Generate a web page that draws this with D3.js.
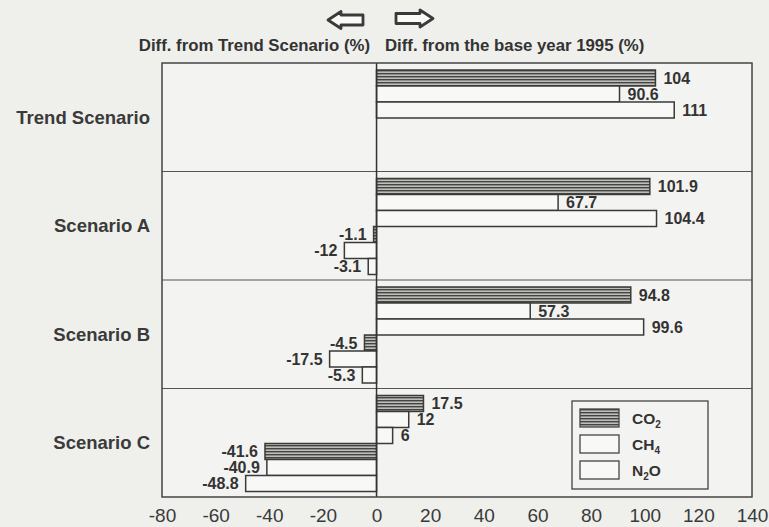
<!DOCTYPE html>
<html>
<head>
<meta charset="utf-8">
<script src="https://cdn.jsdelivr.net/npm/d3@7"></script>
<style>
  body { margin: 0; background: #efefec; }
  svg { display: block; font-family: "Liberation Sans", Arial, sans-serif; }
</style>
</head>
<body>
<div id="chart"></div>
<script>
// scenarios and gases
var scenarios = ["Trend Scenario", "Scenario A", "Scenario B", "Scenario C"];
var gases = ["CO2", "CH4", "N2O"];

// diff. from the base year 1995 (%)
var co2Base = [104, 101.9, 94.8, 17.5];
var ch4Base = [90.6, 67.7, 57.3, 12];
var n2oBase = [111, 104.4, 99.6, 6];

// diff. from trend scenario (%), none for the trend itself
var co2Trend = [null, -1.1, -4.5, -41.6];
var ch4Trend = [null, -12, -17.5, -40.9];
var n2oTrend = [null, -3.1, -5.3, -48.8];

var xTicks = [-80, -60, -40, -20, 0, 20, 40, 60, 80, 100, 120, 140];

var W = 769, H = 527;
var margin = {top: 63, right: 17, bottom: 30, left: 162};

var svg = d3.select("#chart").append("svg")
    .attr("width", W)
    .attr("height", H);

// striped fill for CO2
var defs = svg.append("defs");
var pat = defs.append("pattern")
    .attr("id", "stripes")
    .attr("patternUnits", "userSpaceOnUse")
    .attr("width", 6).attr("height", 3);
pat.append("rect").attr("width", 6).attr("height", 3).attr("fill", "#bdbdb9");
pat.append("rect").attr("y", 1).attr("width", 6).attr("height", 1.4).attr("fill", "#444442");

var x = d3.scaleLinear()
    .domain([-80, 140])
    .range([margin.left, W - margin.right]);

var y = d3.scaleBand()
    .domain(scenarios)
    .range([margin.top, H - margin.bottom])
    .padding(0);

// six slots per scenario: 3 positive bars then 3 negative bars
var slots = ["CO2_b", "CH4_b", "N2O_b", "CO2_t", "CH4_t", "N2O_t"];
var ySub = d3.scaleBand()
    .domain(slots)
    .range([0, y.bandwidth()])
    .paddingInner(0)
    .paddingOuter(0.39)
    .align(0.56);

var fills = {CO2: "url(#stripes)", CH4: "#f8f8f6", N2O: "#f8f8f6"};

// build rows from the arrays
var rows = [];
scenarios.forEach(function(s, i) {
    [[co2Base, "CO2"], [ch4Base, "CH4"], [n2oBase, "N2O"]].forEach(function(p) {
        rows.push({scen: s, gas: p[1], slot: p[1] + "_b", v: p[0][i]});
    });
    [[co2Trend, "CO2"], [ch4Trend, "CH4"], [n2oTrend, "N2O"]].forEach(function(p) {
        if (p[0][i] != null) rows.push({scen: s, gas: p[1], slot: p[1] + "_t", v: p[0][i]});
    });
});

// plot background
svg.append("rect")
    .attr("x", x(-80)).attr("y", margin.top)
    .attr("width", x(140) - x(-80))
    .attr("height", H - margin.bottom - margin.top)
    .attr("fill", "#f3f3f1");

// group separators
svg.selectAll(".sep")
    .data(scenarios.slice(1))
    .enter().append("line")
    .attr("x1", x(-80)).attr("x2", x(140))
    .attr("y1", function(d) { return y(d); })
    .attr("y2", function(d) { return y(d); })
    .attr("stroke", "#555").attr("stroke-width", 1.2);

// bars
svg.selectAll(".bar")
    .data(rows)
    .enter().append("rect")
    .attr("class", "bar")
    .attr("x", function(d) { return x(Math.min(0, d.v)); })
    .attr("y", function(d) { return y(d.scen) + ySub(d.slot); })
    .attr("width", function(d) { return Math.abs(x(d.v) - x(0)); })
    .attr("height", ySub.bandwidth())
    .attr("fill", function(d) { return fills[d.gas]; })
    .attr("stroke", "#3a3a38")
    .attr("stroke-width", 1.5);

// value labels
svg.selectAll(".val")
    .data(rows)
    .enter().append("text")
    .attr("x", function(d) { return d.v >= 0 ? x(d.v) + 8 : x(d.v) - 7; })
    .attr("y", function(d) { return y(d.scen) + ySub(d.slot) + ySub.bandwidth() / 2; })
    .attr("dy", "0.36em")
    .attr("text-anchor", function(d) { return d.v >= 0 ? "start" : "end"; })
    .attr("font-size", 16)
    .attr("font-weight", "bold")
    .attr("fill", "#333")
    .text(function(d) { return d.v; });

// zero line and frame
svg.append("line")
    .attr("x1", x(0)).attr("x2", x(0))
    .attr("y1", margin.top).attr("y2", H - margin.bottom)
    .attr("stroke", "#333").attr("stroke-width", 1.5);
svg.append("rect")
    .attr("x", x(-80)).attr("y", margin.top)
    .attr("width", x(140) - x(-80))
    .attr("height", H - margin.bottom - margin.top)
    .attr("fill", "none")
    .attr("stroke", "#444").attr("stroke-width", 1.5);

// scenario labels
svg.selectAll(".cat")
    .data(scenarios)
    .enter().append("text")
    .attr("x", 150)
    .attr("y", function(d) { return y(d) + y.bandwidth() / 2; })
    .attr("dy", "0.36em")
    .attr("text-anchor", "end")
    .attr("font-size", 18.5)
    .attr("font-weight", "bold")
    .attr("fill", "#3a3a3a")
    .text(function(d) { return d; });

// x axis, plain hyphen minus as in the print
var xAxis = svg.append("g")
    .attr("transform", "translate(0," + (H - margin.bottom) + ")")
    .call(d3.axisBottom(x).tickValues(xTicks).tickSize(0).tickPadding(12)
        .tickFormat(function(d) { return String(d); }));
xAxis.select(".domain").remove();
xAxis.selectAll("text")
    .attr("font-size", 19)
    .attr("font-family", "Liberation Sans, Arial, sans-serif")
    .attr("fill", "#3a3a3a");

// headers
svg.append("text")
    .attr("x", 370).attr("y", 51)
    .attr("text-anchor", "end")
    .attr("font-size", 16.8).attr("font-weight", "bold").attr("fill", "#333")
    .text("Diff. from Trend Scenario (%)");
svg.append("text")
    .attr("x", 385).attr("y", 51)
    .attr("text-anchor", "start")
    .attr("font-size", 16.8).attr("font-weight", "bold").attr("fill", "#333")
    .text("Diff. from the base year 1995 (%)");

// hollow arrows
function arrow(x0, yc, len, dir) {
    var head = 13, hh = 8.5, sh = 5;
    var pts = [[0, 0], [head, -hh], [head, -sh], [len, -sh], [len, sh], [head, sh], [head, hh]];
    return "M" + pts.map(function(p) { return (x0 + dir * p[0]) + "," + (yc + p[1]); }).join("L") + "Z";
}
svg.append("path").attr("d", arrow(328, 20, 35, 1))
    .attr("fill", "#fafaf8").attr("stroke", "#3a3a3a").attr("stroke-width", 2.8)
    .attr("stroke-linejoin", "round");
svg.append("path").attr("d", arrow(433, 18.5, 37, -1))
    .attr("fill", "#fafaf8").attr("stroke", "#3a3a3a").attr("stroke-width", 2.8)
    .attr("stroke-linejoin", "round");

// legend
var lg = svg.append("g");
lg.append("rect")
    .attr("x", 572).attr("y", 401).attr("width", 136).attr("height", 88)
    .attr("fill", "#f3f3f1").attr("stroke", "#444").attr("stroke-width", 1.3);
var legY = d3.scalePoint().domain(gases).range([418, 470]);
lg.selectAll(".sw")
    .data(gases)
    .enter().append("rect")
    .attr("x", 580)
    .attr("y", function(d) { return legY(d) - 9; })
    .attr("width", 39).attr("height", 18)
    .attr("fill", function(d) { return fills[d]; })
    .attr("stroke", "#444").attr("stroke-width", 1.3);
var labs = {CO2: ["CO", "2"], CH4: ["CH", "4"], N2O: ["N", "2", "O"]};
lg.selectAll(".lt")
    .data(gases)
    .enter().append("text")
    .attr("x", 632)
    .attr("y", function(d) { return legY(d); })
    .attr("dy", "0.36em")
    .attr("font-size", 15.5).attr("font-weight", "bold").attr("fill", "#333")
    .each(function(d) {
        var t = d3.select(this), parts = labs[d];
        t.append("tspan").text(parts[0]);
        t.append("tspan").attr("font-size", 10).attr("dy", 4).text(parts[1]);
        if (parts[2]) t.append("tspan").attr("dy", -4).text(parts[2]);
    });
</script>
</body>
</html>
